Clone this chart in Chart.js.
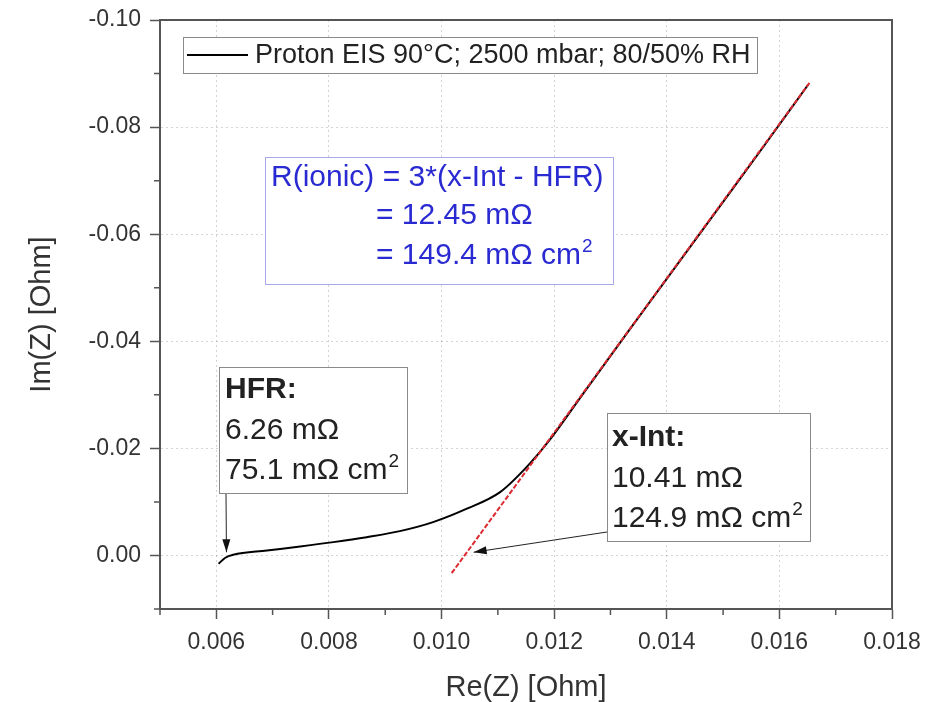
<!DOCTYPE html>
<html>
<head>
<meta charset="utf-8">
<script src="https://cdn.jsdelivr.net/npm/chart.js@4"></script>
<style>
  html, body { margin: 0; padding: 0; background: #fff; }
</style>
</head>
<body>
<canvas id="eis" width="930" height="702"></canvas>
<script>
const reZ = [0.00604, 0.00616, 0.00630, 0.00690, 0.00749, 0.00808, 0.00867, 0.00926, 0.00985,
             0.01045, 0.01104, 0.01151, 0.01190, 0.01250, 0.01330, 0.01410, 0.01490, 0.01570, 0.01651];
const imZ = [0.00155, 0.00043, -0.00013, -0.00093, -0.00168, -0.00249, -0.00342, -0.00454, -0.00622,
             -0.00873, -0.01183, -0.01650, -0.02130, -0.0300, -0.0416, -0.0531, -0.0646, -0.0761, -0.0879];

// linear fit through the 45° part (red dashed)
const fitRe = [0.01018, 0.01655];
const fitIm = [0.0033, -0.0885];

// axes
const xLimits = [0.005, 0.018];
const yLimits = [-0.10, 0.01];
const xStep = 0.002;
const yStep = 0.02;

// texts
const legendLabel = "Proton EIS 90°C; 2500 mbar; 80/50% RH";
const hfrLines = ["HFR:", "6.26 mΩ", "75.1 mΩ cm²"];
const xIntLines = ["x-Int:", "10.41 mΩ", "124.9 mΩ cm²"];
const ionicLines = ["R(ionic) = 3*(x-Int - HFR)", "= 12.45 mΩ", "= 149.4 mΩ cm²"];
const hfrPoint = [0.00618, -0.0006];
const xIntPoint = [0.01057, -0.0006];

const FONT = '"Liberation Sans", Arial, sans-serif';
Chart.defaults.font.family = FONT;

function arrow(ctx, x1, y1, x2, y2) {
  ctx.beginPath();
  ctx.moveTo(x1, y1);
  ctx.lineTo(x2, y2);
  ctx.stroke();
  const a = Math.atan2(y2 - y1, x2 - x1);
  const len = 13, w = 4;
  ctx.beginPath();
  ctx.moveTo(x2, y2);
  ctx.lineTo(x2 - len * Math.cos(a) + w * Math.sin(a), y2 - len * Math.sin(a) - w * Math.cos(a));
  ctx.lineTo(x2 - len * Math.cos(a) - w * Math.sin(a), y2 - len * Math.sin(a) + w * Math.cos(a));
  ctx.closePath();
  ctx.fill();
}

// draws "...cm²" with a real small raised 2
function fillSup(ctx, t, x, y, font) {
  if (!t.endsWith('²')) { ctx.fillText(t, x, y); return; }
  const base = t.slice(0, -1);
  ctx.fillText(base, x, y);
  const w = ctx.measureText(base).width;
  const keep = ctx.font;
  ctx.font = '19px ' + font;
  ctx.fillText('2', x + w + 1, y - 9);
  ctx.font = keep;
}

function textBox(ctx, box, lines, opts) {
  ctx.fillStyle = '#fff';
  ctx.fillRect(box[0], box[1], box[2] - box[0], box[3] - box[1]);
  ctx.strokeStyle = opts.border;
  ctx.lineWidth = 1;
  ctx.strokeRect(box[0] + 0.5, box[1] + 0.5, box[2] - box[0], box[3] - box[1]);
  ctx.fillStyle = opts.color;
  ctx.textBaseline = 'middle';
  ctx.textAlign = 'left';
  lines.forEach((t, i) => {
    ctx.font = (i === 0 && opts.boldFirst ? 'bold ' : '') + '30px ' + FONT;
    fillSup(ctx, t, opts.xs[i], opts.ys[i], FONT);
  });
}

const extras = {
  id: 'extras',
  afterDraw(chart) {
    const {ctx, chartArea: a, scales: {x, y}} = chart;
    ctx.save();

    // frame on top and right
    ctx.strokeStyle = '#555';
    ctx.lineWidth = 2;
    ctx.beginPath();
    ctx.moveTo(a.left - 1, a.top);
    ctx.lineTo(a.right, a.top);
    ctx.lineTo(a.right, a.bottom + 1);
    ctx.stroke();

    // minor ticks halfway between the majors
    ctx.lineWidth = 1.5;
    ctx.beginPath();
    x.ticks.forEach(t => {
      const v = t.value - xStep / 2;
      if (v < xLimits[0] - 1e-9) return;
      const px = x.getPixelForValue(v);
      ctx.moveTo(px, a.bottom);
      ctx.lineTo(px, a.bottom + 6);
    });
    y.ticks.forEach(t => {
      const v = t.value + yStep / 2;
      if (v > yLimits[1] + 1e-9) return;
      const py = y.getPixelForValue(v);
      ctx.moveTo(a.left, py);
      ctx.lineTo(a.left - 6, py);
    });
    ctx.stroke();

    // legend box
    ctx.fillStyle = '#fff';
    ctx.fillRect(183, 37, 574, 36);
    ctx.strokeStyle = '#8a8a8a';
    ctx.lineWidth = 1;
    ctx.strokeRect(183.5, 37.5, 574, 36);
    ctx.strokeStyle = '#000';
    ctx.lineWidth = 2;
    ctx.beginPath();
    ctx.moveTo(187, 55);
    ctx.lineTo(248, 55);
    ctx.stroke();
    ctx.fillStyle = '#222';
    ctx.font = '27px ' + FONT;
    ctx.textBaseline = 'middle';
    ctx.fillText(chart.data.datasets[1].label, 255, 56);

    // annotation boxes
    textBox(ctx, [265, 157, 613, 284], ionicLines,
      {border: '#a8a8ec', color: '#2a2ad2', xs: [271, 376, 376], ys: [178, 216, 256]});
    textBox(ctx, [219, 367, 407, 493], hfrLines,
      {border: '#8a8a8a', color: '#222', boldFirst: true, xs: [225, 225, 225], ys: [390, 431, 471]});
    textBox(ctx, [607, 413, 810, 541], xIntLines,
      {border: '#8a8a8a', color: '#222', boldFirst: true, xs: [612, 612, 612], ys: [438, 479, 519]});

    // arrows to HFR and x-intercept
    ctx.strokeStyle = '#222';
    ctx.fillStyle = '#111';
    ctx.lineWidth = 1;
    arrow(ctx, 226, 494, x.getPixelForValue(hfrPoint[0]), y.getPixelForValue(hfrPoint[1]));
    arrow(ctx, 607, 532, x.getPixelForValue(xIntPoint[0]), y.getPixelForValue(xIntPoint[1]));

    ctx.restore();
  }
};

new Chart(document.getElementById('eis'), {
  type: 'scatter',
  data: {
    datasets: [
      {
        label: 'fit',
        data: fitRe.map((v, i) => ({x: v, y: fitIm[i]})),
        showLine: true,
        borderColor: '#dc2a30',
        borderWidth: 2,
        borderDash: [5, 2],
        pointRadius: 0,
        order: 0
      },
      {
        label: legendLabel,
        data: reZ.map((v, i) => ({x: v, y: imZ[i]})),
        showLine: true,
        borderColor: '#000',
        borderWidth: 2,
        pointRadius: 0,
        cubicInterpolationMode: 'monotone',
        order: 1
      }
    ]
  },
  options: {
    responsive: false,
    animation: false,
    devicePixelRatio: 1,
    layout: {padding: {top: 20, right: 38, left: 0, bottom: 0}},
    plugins: {legend: {display: false}, tooltip: {enabled: false}},
    scales: {
      x: {
        type: 'linear',
        position: 'bottom',
        min: xLimits[0],
        max: xLimits[1],
        ticks: {
          stepSize: xStep,
          includeBounds: false,
          autoSkip: false,
          maxRotation: 0,
          padding: 10,
          color: '#333',
          font: {size: 23},
          callback: v => v.toFixed(3)
        },
        grid: {color: 'rgba(0,0,0,0.17)', tickColor: '#555', tickLength: 10, tickWidth: 1.5},
        border: {color: '#555', width: 2, dash: [2, 3]},
        title: {display: true, text: 'Re(Z) [Ohm]', color: '#333', padding: 0, font: {size: 29, lineHeight: 1}},
        afterFit: s => { s.height = 93; s.paddingLeft = 0; s.paddingRight = 0; }
      },
      y: {
        type: 'linear',
        reverse: true,
        min: yLimits[0],
        max: yLimits[1],
        ticks: {
          stepSize: yStep,
          includeBounds: false,
          autoSkip: false,
          padding: 9,
          color: '#333',
          font: {size: 23},
          callback: v => v.toFixed(2)
        },
        grid: {color: 'rgba(0,0,0,0.17)', tickColor: '#555', tickLength: 10, tickWidth: 1.5},
        border: {color: '#555', width: 2, dash: [2, 3]},
        title: {display: true, text: 'Im(Z) [Ohm]', color: '#333', padding: {top: 25}, font: {size: 29, lineHeight: 1.2}},
        afterFit: s => { s.width = 160; s.paddingTop = 0; s.paddingBottom = 0; }
      }
    }
  },
  plugins: [extras]
});
</script>
</body>
</html>
